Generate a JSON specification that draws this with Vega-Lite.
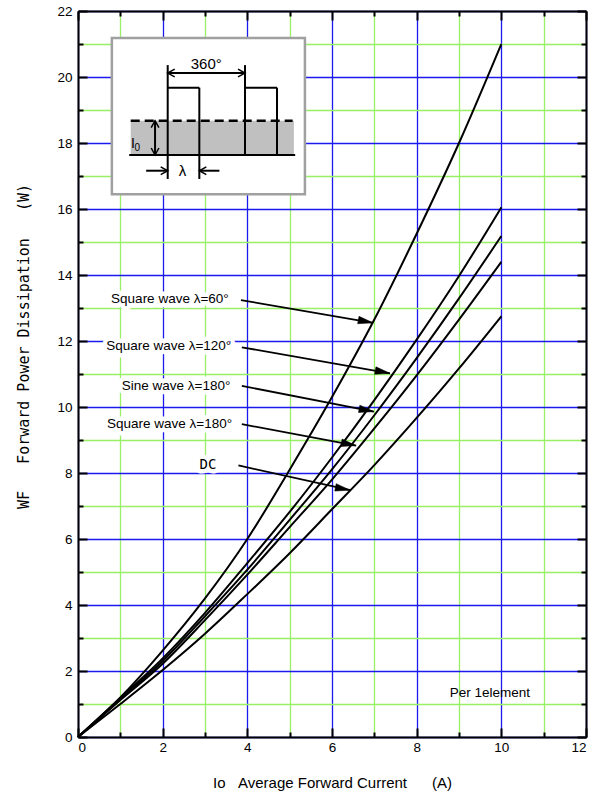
{
  "$schema": "https://vega.github.io/schema/vega-lite/v6.json",
  "width": 508,
  "height": 726,
  "autosize": {"type": "none"},
  "padding": {"left": 78, "top": 11, "right": 8, "bottom": 57},
  "background": "white",
  "config": {"view": {"stroke": null}, "font": "Liberation Sans"},
  "datasets": {
    "curves": [
      {"series": "Square wave 60", "x": 0, "y": 0}, {"series": "Square wave 60", "x": 1, "y": 1.2}, {"series": "Square wave 60", "x": 2, "y": 2.62}, {"series": "Square wave 60", "x": 3, "y": 4.2}, {"series": "Square wave 60", "x": 4, "y": 6.0}, {"series": "Square wave 60", "x": 5, "y": 8.1}, {"series": "Square wave 60", "x": 6, "y": 10.3}, {"series": "Square wave 60", "x": 7, "y": 12.65}, {"series": "Square wave 60", "x": 8, "y": 15.25}, {"series": "Square wave 60", "x": 9, "y": 18.0}, {"series": "Square wave 60", "x": 10, "y": 21.0},
      {"series": "Square wave 120", "x": 0, "y": 0}, {"series": "Square wave 120", "x": 1, "y": 1.18}, {"series": "Square wave 120", "x": 2, "y": 2.38}, {"series": "Square wave 120", "x": 3, "y": 3.76}, {"series": "Square wave 120", "x": 4, "y": 5.27}, {"series": "Square wave 120", "x": 5, "y": 6.82}, {"series": "Square wave 120", "x": 6, "y": 8.47}, {"series": "Square wave 120", "x": 7, "y": 10.21}, {"series": "Square wave 120", "x": 8, "y": 12.04}, {"series": "Square wave 120", "x": 9, "y": 13.97}, {"series": "Square wave 120", "x": 10, "y": 16.05},
      {"series": "Sine wave 180", "x": 0, "y": 0}, {"series": "Sine wave 180", "x": 1, "y": 1.14}, {"series": "Sine wave 180", "x": 2, "y": 2.3}, {"series": "Sine wave 180", "x": 3, "y": 3.66}, {"series": "Sine wave 180", "x": 4, "y": 5.07}, {"series": "Sine wave 180", "x": 5, "y": 6.58}, {"series": "Sine wave 180", "x": 6, "y": 8.11}, {"series": "Sine wave 180", "x": 7, "y": 9.75}, {"series": "Sine wave 180", "x": 8, "y": 11.48}, {"series": "Sine wave 180", "x": 9, "y": 13.29}, {"series": "Sine wave 180", "x": 10, "y": 15.18},
      {"series": "Square wave 180", "x": 0, "y": 0}, {"series": "Square wave 180", "x": 1, "y": 1.12}, {"series": "Square wave 180", "x": 2, "y": 2.22}, {"series": "Square wave 180", "x": 3, "y": 3.54}, {"series": "Square wave 180", "x": 4, "y": 4.92}, {"series": "Square wave 180", "x": 5, "y": 6.36}, {"series": "Square wave 180", "x": 6, "y": 7.8}, {"series": "Square wave 180", "x": 7, "y": 9.35}, {"series": "Square wave 180", "x": 8, "y": 10.96}, {"series": "Square wave 180", "x": 9, "y": 12.65}, {"series": "Square wave 180", "x": 10, "y": 14.4},
      {"series": "DC", "x": 0, "y": 0}, {"series": "DC", "x": 1, "y": 1.0}, {"series": "DC", "x": 2, "y": 2.03}, {"series": "DC", "x": 3, "y": 3.13}, {"series": "DC", "x": 4, "y": 4.33}, {"series": "DC", "x": 5, "y": 5.57}, {"series": "DC", "x": 6, "y": 6.9}, {"series": "DC", "x": 7, "y": 8.24}, {"series": "DC", "x": 8, "y": 9.67}, {"series": "DC", "x": 9, "y": 11.17}, {"series": "DC", "x": 10, "y": 12.75}
    ],
    "notes": [
      {"label": "Square wave λ=60°", "kind": "sans", "tx": 3.56, "ty": 13.26, "x1": 3.85, "y1": 13.24, "x2": 6.97, "y2": 12.55},
      {"label": "Square wave λ=120°", "kind": "sans", "tx": 3.62, "ty": 11.85, "x1": 3.87, "y1": 11.81, "x2": 7.37, "y2": 11.02},
      {"label": "Sine wave λ=180°", "kind": "sans", "tx": 3.6, "ty": 10.64, "x1": 3.87, "y1": 10.64, "x2": 6.99, "y2": 9.86},
      {"label": "Square wave λ=180°", "kind": "sans", "tx": 3.64, "ty": 9.48, "x1": 3.87, "y1": 9.48, "x2": 6.57, "y2": 8.83},
      {"label": "DC", "kind": "mono", "tx": 3.07, "ty": 8.23, "x1": 3.79, "y1": 8.23, "x2": 6.43, "y2": 7.48}
    ],
    "insetBox": [{"x": 0.8, "x2": 5.36, "y": 21.18, "y2": 16.45}],
    "shade": [{"x": 1.245, "x2": 5.1, "y": 17.636, "y2": 18.676}],
    "segs": [
      {"part": "baseline", "x1": 1.21, "y1": 17.636, "x2": 5.13, "y2": 17.636},
      {"part": "pulse1 left", "x1": 2.119, "y1": 20.36, "x2": 2.119, "y2": 16.91},
      {"part": "pulse1 top", "x1": 2.119, "y1": 19.676, "x2": 2.866, "y2": 19.676},
      {"part": "pulse1 right", "x1": 2.866, "y1": 19.676, "x2": 2.866, "y2": 16.91},
      {"part": "pulse2 left", "x1": 3.945, "y1": 20.36, "x2": 3.945, "y2": 17.636},
      {"part": "pulse2 top", "x1": 3.945, "y1": 19.676, "x2": 4.701, "y2": 19.676},
      {"part": "pulse2 right", "x1": 4.701, "y1": 19.676, "x2": 4.701, "y2": 17.636},
      {"part": "period", "x1": 2.119, "y1": 20.12, "x2": 3.945, "y2": 20.12},
      {"part": "Io", "x1": 1.82, "y1": 18.676, "x2": 1.82, "y2": 17.636},
      {"part": "lambda left", "x1": 1.61, "y1": 17.16, "x2": 2.119, "y2": 17.16},
      {"part": "lambda right", "x1": 3.34, "y1": 17.16, "x2": 2.866, "y2": 17.16}
    ],
    "dashed": [{"x1": 1.245, "y1": 18.676, "x2": 5.07, "y2": 18.676}],
    "heads": [
      {"x": 2.119, "y": 20.12, "dir": "left"},
      {"x": 3.945, "y": 20.12, "dir": "right"},
      {"x": 1.82, "y": 18.676, "dir": "up"},
      {"x": 1.82, "y": 17.636, "dir": "down"},
      {"x": 2.119, "y": 17.16, "dir": "right"},
      {"x": 2.866, "y": 17.16, "dir": "left"}
    ],
    "insetText": [
      {"t": "360°", "role": "big", "x": 3.03, "y": 20.39},
      {"t": "λ", "role": "big", "x": 2.47, "y": 17.16},
      {"t": "I", "role": "mid", "x": 1.3, "y": 17.98},
      {"t": "0", "role": "sub", "x": 1.4, "y": 17.86}
    ],
    "footnote": [{"t": "Per 1element", "x": 9.73, "y": 1.33}]
  },
  "resolve": {"axis": {"x": "independent", "y": "independent"}},
  "layer": [
    {
      "data": {"name": "insetBox"},
      "mark": {"type": "rect", "fill": "white", "stroke": "#a0a0a0", "strokeWidth": 2.5},
      "encoding": {
        "x": {"field": "x", "type": "quantitative", "scale": {"domain": [0, 12], "nice": false},
          "axis": {"orient": "top", "title": null, "labels": false, "grid": false, "values": [0,1,2,3,4,5,6,7,8,9,10,11,12],
            "tickColor": "black", "tickWidth": 2, "tickSize": {"condition": {"test": "datum.value % 2 === 0", "value": -9}, "value": -5},
            "domainColor": "black", "domainWidth": 2}},
        "x2": {"field": "x2"},
        "y": {"field": "y", "type": "quantitative", "scale": {"domain": [0, 22], "nice": false},
          "axis": {"orient": "right", "title": null, "labels": false, "grid": false, "values": [0,1,2,3,4,5,6,7,8,9,10,11,12,13,14,15,16,17,18,19,20,21,22],
            "tickColor": "black", "tickWidth": 2, "tickSize": {"condition": {"test": "datum.value % 2 === 0", "value": -9}, "value": -5},
            "domainColor": "black", "domainWidth": 2}},
        "y2": {"field": "y2"}
      }
    },
    {
      "data": {"name": "shade"},
      "mark": {"type": "rect", "fill": "#c0c0c0"},
      "encoding": {
        "x": {"field": "x", "type": "quantitative", "axis": null},
        "x2": {"field": "x2"},
        "y": {"field": "y", "type": "quantitative", "axis": null},
        "y2": {"field": "y2"}
      }
    },
    {
      "data": {"name": "segs"},
      "mark": {"type": "rule", "color": "black", "strokeWidth": 2},
      "encoding": {
        "x": {"field": "x1", "type": "quantitative", "axis": null},
        "y": {"field": "y1", "type": "quantitative", "axis": null},
        "x2": {"field": "x2"},
        "y2": {"field": "y2"}
      }
    },
    {
      "data": {"name": "dashed"},
      "mark": {"type": "rule", "color": "black", "strokeWidth": 2.5, "strokeDash": [9, 5]},
      "encoding": {
        "x": {"field": "x1", "type": "quantitative", "axis": null},
        "y": {"field": "y1", "type": "quantitative", "axis": null},
        "x2": {"field": "x2"},
        "y2": {"field": "y2"}
      }
    },
    {
      "data": {"name": "heads"},
      "transform": [{"filter": "datum.dir === 'right'"}],
      "mark": {"type": "point", "shape": "M-1,-0.55L0,0L-1,0.55", "filled": false, "stroke": "black", "strokeWidth": 1.5, "size": 196, "opacity": 1, "angle": 0},
      "encoding": {
        "x": {"field": "x", "type": "quantitative", "axis": null},
        "y": {"field": "y", "type": "quantitative", "axis": null}
      }
    },
    {
      "data": {"name": "heads"},
      "transform": [{"filter": "datum.dir === 'left'"}],
      "mark": {"type": "point", "shape": "M-1,-0.55L0,0L-1,0.55", "filled": false, "stroke": "black", "strokeWidth": 1.5, "size": 196, "opacity": 1, "angle": 180},
      "encoding": {
        "x": {"field": "x", "type": "quantitative", "axis": null},
        "y": {"field": "y", "type": "quantitative", "axis": null}
      }
    },
    {
      "data": {"name": "heads"},
      "transform": [{"filter": "datum.dir === 'up'"}],
      "mark": {"type": "point", "shape": "M-1,-0.55L0,0L-1,0.55", "filled": false, "stroke": "black", "strokeWidth": 1.5, "size": 196, "opacity": 1, "angle": 270},
      "encoding": {
        "x": {"field": "x", "type": "quantitative", "axis": null},
        "y": {"field": "y", "type": "quantitative", "axis": null}
      }
    },
    {
      "data": {"name": "heads"},
      "transform": [{"filter": "datum.dir === 'down'"}],
      "mark": {"type": "point", "shape": "M-1,-0.55L0,0L-1,0.55", "filled": false, "stroke": "black", "strokeWidth": 1.5, "size": 196, "opacity": 1, "angle": 90},
      "encoding": {
        "x": {"field": "x", "type": "quantitative", "axis": null},
        "y": {"field": "y", "type": "quantitative", "axis": null}
      }
    },
    {
      "data": {"name": "insetText"},
      "transform": [{"filter": "datum.role === 'big'"}],
      "mark": {"type": "text", "font": "Liberation Sans", "fontSize": 15, "align": "center", "baseline": "middle", "color": "black"},
      "encoding": {
        "x": {"field": "x", "type": "quantitative", "axis": null},
        "y": {"field": "y", "type": "quantitative", "axis": null},
        "text": {"field": "t"}
      }
    },
    {
      "data": {"name": "insetText"},
      "transform": [{"filter": "datum.role === 'mid'"}],
      "mark": {"type": "text", "font": "Liberation Sans", "fontSize": 14, "align": "center", "baseline": "middle", "color": "black"},
      "encoding": {
        "x": {"field": "x", "type": "quantitative", "axis": null},
        "y": {"field": "y", "type": "quantitative", "axis": null},
        "text": {"field": "t"}
      }
    },
    {
      "data": {"name": "insetText"},
      "transform": [{"filter": "datum.role === 'sub'"}],
      "mark": {"type": "text", "font": "Liberation Sans", "fontSize": 10, "align": "center", "baseline": "middle", "color": "black"},
      "encoding": {
        "x": {"field": "x", "type": "quantitative", "axis": null},
        "y": {"field": "y", "type": "quantitative", "axis": null},
        "text": {"field": "t"}
      }
    },
    {
      "data": {"name": "curves"},
      "mark": {"type": "line", "color": "black", "strokeWidth": 2, "interpolate": "monotone"},
      "encoding": {
        "x": {"field": "x", "type": "quantitative",
          "axis": {"orient": "bottom", "values": [0,1,2,3,4,5,6,7,8,9,10,11,12],
            "labelExpr": "datum.value % 2 === 0 ? datum.label : ''",
            "labelFont": "Liberation Sans", "labelFontSize": 13.5, "labelColor": "black", "labelPadding": 12,
            "grid": true, "gridWidth": 1.3,
            "gridColor": {"condition": {"test": "datum.value % 2 === 0", "value": "#1a1aee"}, "value": "#99f066"},
            "tickColor": "black", "tickWidth": 2, "tickSize": {"condition": {"test": "datum.value % 2 === 0", "value": -9}, "value": -5},
            "domainColor": "black", "domainWidth": 2,
            "title": "Io\u00a0\u00a0\u00a0Average Forward Current\u00a0\u00a0\u00a0\u00a0\u00a0\u00a0(A)",
            "titleFont": "Liberation Sans", "titleFontSize": 15, "titleFontWeight": "normal", "titleColor": "black",
            "titleX": 254, "titleY": 45, "titleBaseline": "middle", "titleAlign": "center"}},
        "y": {"field": "y", "type": "quantitative",
          "axis": {"orient": "left", "values": [0,1,2,3,4,5,6,7,8,9,10,11,12,13,14,15,16,17,18,19,20,21,22],
            "labelExpr": "datum.value % 2 === 0 ? datum.label : ''",
            "labelFont": "Liberation Sans", "labelFontSize": 13.5, "labelColor": "black", "labelPadding": 15,
            "grid": true, "gridWidth": 1.3,
            "gridColor": {"condition": {"test": "datum.value % 2 === 0", "value": "#1a1aee"}, "value": "#99f066"},
            "tickColor": "black", "tickWidth": 2, "tickSize": {"condition": {"test": "datum.value % 2 === 0", "value": -9}, "value": -5},
            "domainColor": "black", "domainWidth": 2,
            "title": "WF\u00a0\u00a0\u00a0Forward Power Dissipation\u00a0\u00a0\u00a0(W)",
            "titleFont": "DejaVu Sans Mono", "titleFontSize": 15, "titleFontWeight": "normal", "titleColor": "black",
            "titleX": -55, "titleY": 335, "titleBaseline": "middle", "titleAlign": "center", "titleAngle": -90}},
        "detail": {"field": "series"}
      }
    },
    {
      "data": {"name": "notes"},
      "mark": {"type": "rule", "color": "black", "strokeWidth": 1.8},
      "encoding": {
        "x": {"field": "x1", "type": "quantitative", "axis": null},
        "y": {"field": "y1", "type": "quantitative", "axis": null},
        "x2": {"field": "x2"},
        "y2": {"field": "y2"}
      }
    },
    {
      "data": {"name": "notes"},
      "mark": {"type": "point", "shape": "M0,0L-1,-0.25L-1,0.25Z", "filled": true, "fill": "black", "stroke": "black", "strokeWidth": 0.5, "size": 900, "opacity": 1, "angle": 10.8},
      "encoding": {
        "x": {"field": "x2", "type": "quantitative", "axis": null},
        "y": {"field": "y2", "type": "quantitative", "axis": null}
      }
    },
    {
      "data": {"name": "notes"},
      "transform": [{"filter": "datum.kind === 'sans'"}],
      "mark": {"type": "text", "font": "Liberation Sans", "fontSize": 13.5, "align": "right", "baseline": "middle", "stroke": "white", "strokeWidth": 9, "strokeJoin": "round", "fill": "white"},
      "encoding": {
        "x": {"field": "tx", "type": "quantitative", "axis": null},
        "y": {"field": "ty", "type": "quantitative", "axis": null},
        "text": {"field": "label"}
      }
    },
    {
      "data": {"name": "notes"},
      "transform": [{"filter": "datum.kind === 'sans'"}],
      "mark": {"type": "text", "font": "Liberation Sans", "fontSize": 13.5, "align": "right", "baseline": "middle", "color": "black"},
      "encoding": {
        "x": {"field": "tx", "type": "quantitative", "axis": null},
        "y": {"field": "ty", "type": "quantitative", "axis": null},
        "text": {"field": "label"}
      }
    },
    {
      "data": {"name": "notes"},
      "transform": [{"filter": "datum.kind === 'mono'"}],
      "mark": {"type": "text", "font": "DejaVu Sans Mono", "fontSize": 14, "align": "center", "baseline": "middle", "stroke": "white", "strokeWidth": 9, "strokeJoin": "round", "fill": "white"},
      "encoding": {
        "x": {"field": "tx", "type": "quantitative", "axis": null},
        "y": {"field": "ty", "type": "quantitative", "axis": null},
        "text": {"field": "label"}
      }
    },
    {
      "data": {"name": "notes"},
      "transform": [{"filter": "datum.kind === 'mono'"}],
      "mark": {"type": "text", "font": "DejaVu Sans Mono", "fontSize": 14, "align": "center", "baseline": "middle", "color": "black"},
      "encoding": {
        "x": {"field": "tx", "type": "quantitative", "axis": null},
        "y": {"field": "ty", "type": "quantitative", "axis": null},
        "text": {"field": "label"}
      }
    },
    {
      "data": {"name": "footnote"},
      "mark": {"type": "text", "font": "Liberation Sans", "fontSize": 13.5, "align": "center", "baseline": "middle", "color": "black"},
      "encoding": {
        "x": {"field": "x", "type": "quantitative", "axis": null},
        "y": {"field": "y", "type": "quantitative", "axis": null},
        "text": {"field": "t"}
      }
    }
  ]
}
